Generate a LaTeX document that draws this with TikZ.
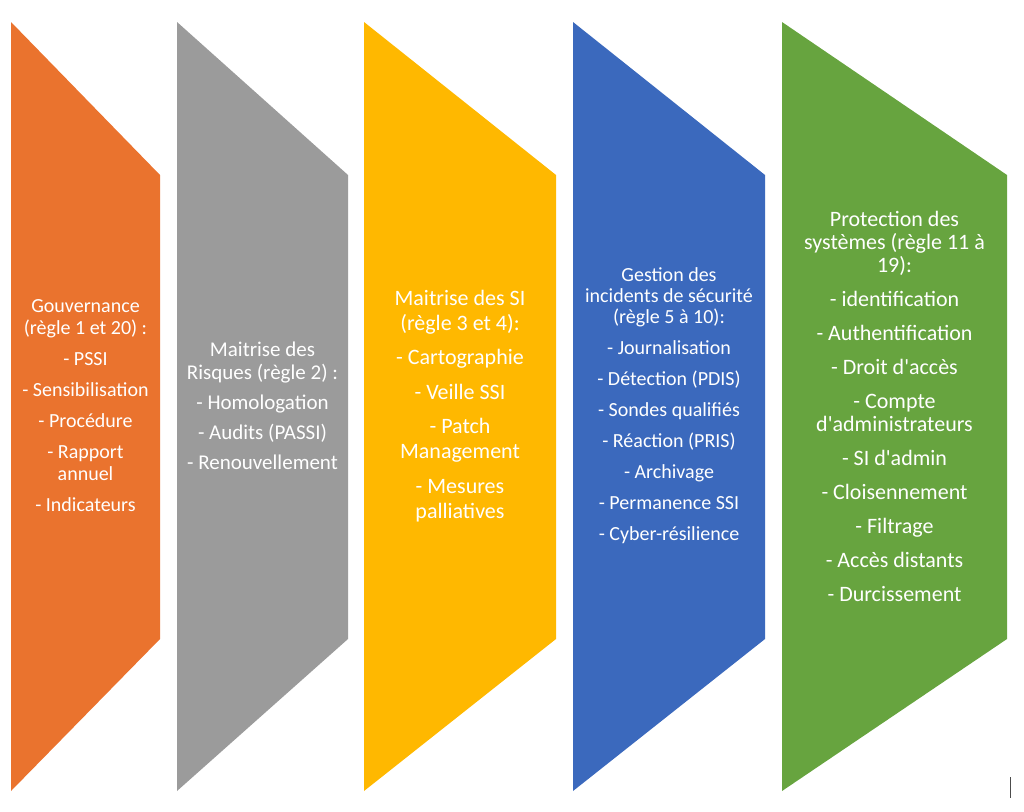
\documentclass[tikz,border=0pt]{standalone}
\usepackage{fontspec}
\setmainfont{Carlito}
\usetikzlibrary{positioning}
\definecolor{govorange}{RGB}{234,115,46}
\definecolor{riskgray}{RGB}{155,155,155}
\definecolor{sigold}{RGB}{255,184,0}
\definecolor{incblue}{RGB}{59,105,189}
\definecolor{protgreen}{RGB}{103,164,63}
\begin{document}
\begin{tikzpicture}[
  x=1pt, y=-1pt,
  every node/.style={text=white, align=center, inner sep=0pt},
  panel/.style={draw=none}
]
  \useasboundingbox (0,0) rectangle (1024,811);

  \fill[panel, govorange] (11,22) -- (160,175) -- (160,639) -- (11,791) -- cycle;
  \fill[panel, riskgray]  (177,22) -- (348,175) -- (348,639) -- (177,791) -- cycle;
  \fill[panel, sigold]    (364,22) -- (556,175) -- (556,639) -- (364,791) -- cycle;
  \fill[panel, incblue]   (573,22) -- (765,175) -- (765,639) -- (573,791) -- cycle;
  \fill[panel, protgreen] (782,22) -- (1007,175) -- (1007,639) -- (782,791) -- cycle;

  \node[font=\fontsize{20}{22}\selectfont] (gouv) at (85.5,406)
    {Gouvernance\\(règle 1 et 20) :\\[9pt]- PSSI\\[9pt]- Sensibilisation\\[9pt]- Procédure\\[9pt]- Rapport\\annuel\\[9pt]- Indicateurs};
  \node[font=\fontsize{21}{23}\selectfont] (risques) at (262.5,406)
    {Maitrise des\\Risques (règle 2) :\\[7pt]- Homologation\\[7pt]- Audits (PASSI)\\[7pt]- Renouvellement};
  \node[font=\fontsize{22}{25}\selectfont] (maitrise) at (460,406)
    {Maitrise des SI\\(règle 3 et 4):\\[9.5pt]- Cartographie\\[9.5pt]- Veille SSI\\[9.5pt]- Patch\\Management\\[9.5pt]- Mesures\\palliatives};
  \node[font=\fontsize{20}{21}\selectfont] (incidents) at (669,406)
    {Gestion des\\incidents de sécurité\\(règle 5 à 10):\\[10pt]- Journalisation\\[10pt]- Détection (PDIS)\\[10pt]- Sondes qualifiés\\[10pt]- Réaction (PRIS)\\[10pt]- Archivage\\[10pt]- Permanence SSI\\[10pt]- Cyber-résilience};
  \node[font=\fontsize{22}{23}\selectfont] (protection) at (894.5,406)
    {Protection des\\systèmes (règle 11 à\\19):\\[11pt]- identification\\[11pt]- Authentification\\[11pt]- Droit d\textquotesingle accès\\[11pt]- Compte\\d\textquotesingle administrateurs\\[11pt]- SI d\textquotesingle admin\\[11pt]- Cloisennement\\[11pt]- Filtrage\\[11pt]- Accès distants\\[11pt]- Durcissement};

  \draw[black!70, line width=1pt] (1010,777) -- (1010,798);
\end{tikzpicture}
\end{document}
